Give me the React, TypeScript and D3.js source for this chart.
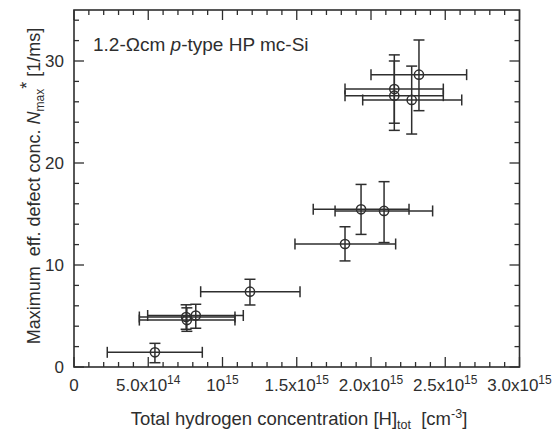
import React from "react";
import * as d3 from "d3";

// Data (x in units of 1e15 cm^-3, y in 1/ms)
const hTot = [0.545, 0.755, 0.76, 0.82, 1.185, 1.825, 1.933, 2.088, 2.157, 2.157, 2.274, 2.323];
const nMax = [1.44, 4.9, 4.6, 5.05, 7.38, 12.06, 15.46, 15.3, 27.25, 26.6, 26.18, 28.66];
const hTotLo = [0.224, 0.44, 0.44, 0.496, 0.853, 1.488, 1.611, 1.758, 1.825, 1.825, 1.944, 2.0];
const hTotHi = [0.864, 1.084, 1.084, 1.14, 1.522, 2.166, 2.256, 2.415, 2.487, 2.487, 2.611, 2.644];
const nMaxLo = [0.42, 3.7, 3.5, 3.8, 6.08, 10.4, 13.0, 12.2, 23.9, 23.2, 22.84, 25.13];
const nMaxHi = [2.32, 6.1, 5.8, 6.15, 8.6, 13.75, 17.9, 18.17, 30.6, 30.0, 29.5, 32.06];

const xTickVals = [0, 0.5, 1.0, 1.5, 2.0, 2.5, 3.0];
const xTickMant = ["0", "5.0x10", "10", "1.5x10", "2.0x10", "2.5x10", "3.0x10"];
const xTickExp = ["", "14", "15", "15", "15", "15", "15"];
const yTickVals = [0, 10, 20, 30];

const W = 555, H = 434;
const L = 74, R = 519.5, T = 10, B = 367;
const INK = "#2e2e2e";
const FONT = "'Liberation Sans', Arial, Helvetica, sans-serif";

export default function App() {
  const x = d3.scaleLinear().domain([0, 3.0]).range([L, R]);
  const y = d3.scaleLinear().domain([0, 35]).range([B, T]);
  const xMinor = d3.range(0, 3.0001, 0.1);
  const yMinor = d3.range(0, 35.0001, 2);
  const cap = 5.5;

  return (
    <svg width={W} height={H} style={{ position: "absolute", left: 0, top: 0, background: "#fff" }} fontFamily={FONT}>
      {/* ticks */}
      <g stroke={INK} strokeWidth={1.3}>
        {xMinor.map((v, i) => {
          const major = Math.abs(v * 2 - Math.round(v * 2)) < 1e-6;
          const len = major ? 10 : 5;
          return (
            <g key={"xt" + i}>
              <line x1={x(v)} x2={x(v)} y1={B} y2={B - len} />
              <line x1={x(v)} x2={x(v)} y1={T} y2={T + len} />
            </g>
          );
        })}
        {yMinor.map((v, i) => {
          const major = v % 10 === 0;
          const len = major ? 10 : 5;
          return (
            <g key={"yt" + i}>
              <line x1={L} x2={L + len} y1={y(v)} y2={y(v)} />
              <line x1={R} x2={R - len} y1={y(v)} y2={y(v)} />
            </g>
          );
        })}
      </g>
      <rect x={L} y={T} width={R - L} height={B - T} fill="none" stroke={INK} strokeWidth={1.6} />

      {/* tick labels */}
      <g fill={INK} fontSize={17}>
        {xTickVals.map((v, i) => (
          <text key={"xl" + i} x={x(v)} y={391} textAnchor="middle">
            {xTickMant[i]}
            {xTickExp[i] && <tspan fontSize={12} dy={-7}>{xTickExp[i]}</tspan>}
          </text>
        ))}
        {yTickVals.map((v, i) => (
          <text key={"yl" + i} x={64} y={y(v) + 6} textAnchor="end">{v}</text>
        ))}
      </g>

      {/* error bars and markers */}
      <g stroke={INK} strokeWidth={1.5} fill="none">
        {hTot.map((v, i) => {
          const cx = x(v), cy = y(nMax[i]);
          const xl = x(hTotLo[i]), xh = x(hTotHi[i]);
          const yl = y(nMaxLo[i]), yh = y(nMaxHi[i]);
          return (
            <g key={"p" + i}>
              <line x1={xl} x2={xh} y1={cy} y2={cy} />
              <line x1={xl} x2={xl} y1={cy - cap} y2={cy + cap} />
              <line x1={xh} x2={xh} y1={cy - cap} y2={cy + cap} />
              <line x1={cx} x2={cx} y1={yl} y2={yh} />
              <line x1={cx - cap} x2={cx + cap} y1={yl} y2={yl} />
              <line x1={cx - cap} x2={cx + cap} y1={yh} y2={yh} />
              <circle cx={cx} cy={cy} r={4.6} />
            </g>
          );
        })}
      </g>

      {/* annotation */}
      <text x={93} y={51} fontSize={19} fill={INK}>
        1.2-Ωcm <tspan fontStyle="italic">p</tspan>-type HP mc-Si
      </text>

      {/* axis titles */}
      <text x={299} y={425} fontSize={18.5} fill={INK} textAnchor="middle">
        Total hydrogen concentration [H]<tspan fontSize={12.5} dy={4}>tot</tspan>
        <tspan dy={-4}>{"\u00a0\u00a0"}[cm</tspan>
        <tspan fontSize={12.5} dy={-7}>-3</tspan>
        <tspan dy={7}>]</tspan>
      </text>
      <text transform={`translate(40,186) rotate(-90)`} fontSize={18} fill={INK} textAnchor="middle">
        Maximum{"\u00a0\u00a0"}eff. defect conc. <tspan fontStyle="italic">N</tspan>
        <tspan fontSize={12} dy={4}>max</tspan>
        <tspan dy={-11}>*</tspan>
        <tspan dy={7}>{"\u00a0"}[1/ms]</tspan>
      </text>
    </svg>
  );
}
